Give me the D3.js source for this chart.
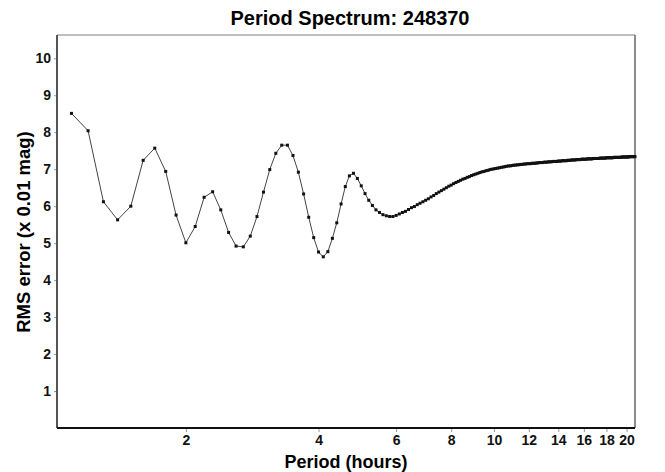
<!doctype html>
<html lang="en">
    <head>
        <meta charset="utf-8">
        <title>Period Spectrum</title>
        <style>
            body { margin: 0; background: #fff; }
            text { font-family: "Liberation Sans", Arial, sans-serif; }
        </style>
    </head>
    <body>
        <script src="https://d3js.org/d3.v7.min.js"></script>
        <script>
            // period (hours), one sample every 0.1 h
            var periods = [
                1.1,1.2,1.3,1.4,1.5,1.6,1.7,1.8,1.9,2.0,
                2.1,2.2,2.3,2.4,2.5,2.6,2.7,2.8,2.9,3.0,
                3.1,3.2,3.3,3.4,3.5,3.6,3.7,3.8,3.9,4.0,
                4.1,4.2,4.3,4.4,4.5,4.6,4.7,4.8,4.9,5.0,
                5.1,5.2,5.3,5.4,5.5,5.6,5.7,5.8,5.9,6.0,
                6.1,6.2,6.3,6.4,6.5,6.6,6.7,6.8,6.9,7.0,
                7.1,7.2,7.3,7.4,7.5,7.6,7.7,7.8,7.9,8.0,
                8.1,8.2,8.3,8.4,8.5,8.6,8.7,8.8,8.9,9.0,
                9.1,9.2,9.3,9.4,9.5,9.6,9.7,9.8,9.9,10.0,
                10.1,10.2,10.3,10.4,10.5,10.6,10.7,10.8,10.9,11.0,
                11.1,11.2,11.3,11.4,11.5,11.6,11.7,11.8,11.9,12.0,
                12.1,12.2,12.3,12.4,12.5,12.6,12.7,12.8,12.9,13.0,
                13.1,13.2,13.3,13.4,13.5,13.6,13.7,13.8,13.9,14.0,
                14.1,14.2,14.3,14.4,14.5,14.6,14.7,14.8,14.9,15.0,
                15.1,15.2,15.3,15.4,15.5,15.6,15.7,15.8,15.9,16.0,
                16.1,16.2,16.3,16.4,16.5,16.6,16.7,16.8,16.9,17.0,
                17.1,17.2,17.3,17.4,17.5,17.6,17.7,17.8,17.9,18.0,
                18.1,18.2,18.3,18.4,18.5,18.6,18.7,18.8,18.9,19.0,
                19.1,19.2,19.3,19.4,19.5,19.6,19.7,19.8,19.9,20.0,
                20.1,20.2,20.3,20.4,20.5,20.6,20.7,20.8,20.9
            ];
            // RMS error (x 0.01 mag)
            var rms = [
                8.51,8.04,6.12,5.63,6.00,7.24,7.57,6.94,5.76,5.01,
                5.45,6.24,6.39,5.90,5.29,4.92,4.90,5.19,5.72,6.38,
                6.99,7.43,7.65,7.65,7.37,6.92,6.33,5.70,5.15,4.76,
                4.63,4.77,5.13,5.55,6.06,6.53,6.82,6.89,6.75,6.55,
                6.34,6.16,6.02,5.90,5.83,5.77,5.74,5.72,5.72,5.75,
                5.79,5.83,5.86,5.91,5.96,5.99,6.04,6.08,6.12,6.16,
                6.20,6.25,6.29,6.34,6.38,6.42,6.46,6.50,6.54,6.57,
                6.61,6.64,6.67,6.70,6.73,6.75,6.78,6.80,6.83,6.85,
                6.87,6.89,6.91,6.93,6.94,6.96,6.97,6.99,7.00,7.01,
                7.02,7.03,7.04,7.05,7.06,7.07,7.08,7.09,7.09,7.10,
                7.11,7.11,7.12,7.12,7.13,7.13,7.14,7.14,7.15,7.15,
                7.15,7.16,7.16,7.16,7.17,7.17,7.18,7.18,7.18,7.19,
                7.19,7.19,7.20,7.20,7.20,7.21,7.21,7.21,7.21,7.22,
                7.22,7.22,7.23,7.23,7.23,7.23,7.24,7.24,7.24,7.25,
                7.25,7.25,7.25,7.26,7.26,7.26,7.26,7.27,7.27,7.27,
                7.27,7.27,7.28,7.28,7.28,7.28,7.28,7.29,7.29,7.29,
                7.29,7.29,7.29,7.30,7.30,7.30,7.30,7.30,7.30,7.31,
                7.31,7.31,7.31,7.31,7.31,7.31,7.32,7.32,7.32,7.32,
                7.32,7.32,7.32,7.32,7.33,7.33,7.33,7.33,7.33,7.33,
                7.33,7.33,7.34,7.34,7.34,7.34,7.34,7.34,7.34
            ];
            var xTicks = [2, 4, 6, 8, 10, 12, 14, 16, 18, 20];
            var yTicks = [1, 2, 3, 4, 5, 6, 7, 8, 9, 10];

            var margin = {top: 35, right: 30, bottom: 44, left: 57},
                width = 665 - margin.left - margin.right,
                height = 472 - margin.top - margin.bottom;

            var data = periods.map(function(p, i) { return {p: p, v: rms[i]}; });

            var x = d3.scaleLog()
                      .domain([1.02, 20.9])
                      .range([0, width]);
            var y = d3.scaleLinear()
                      .domain([0, 10.63])
                      .range([height, 0]);

            var svg = d3.select("body").append("svg")
                        .attr("width", 665)
                        .attr("height", 472);
            var g = svg.append("g")
                       .attr("transform", "translate(" + margin.left + "," + margin.top + ")");

            // title
            svg.append("text")
               .attr("x", 350).attr("y", 25)
               .attr("text-anchor", "middle")
               .attr("font-size", "20px").attr("font-weight", "bold")
               .text("Period Spectrum: 248370");

            // axes
            var xAxis = g.append("g")
                .attr("transform", "translate(0," + height + ")")
                .call(d3.axisBottom(x).tickValues(xTicks).tickFormat(d3.format("d"))
                        .tickSize(4).tickSizeOuter(0).tickPadding(3));
            var yAxis = g.append("g")
                .call(d3.axisLeft(y).tickValues(yTicks).tickFormat(d3.format("d"))
                        .tickSize(3).tickSizeOuter(0).tickPadding(3));
            [xAxis, yAxis].forEach(function(a) {
                a.select(".domain").remove();
                a.selectAll(".tick line").attr("stroke", "#999");
                a.selectAll(".tick text")
                 .attr("font-family", "Liberation Sans, Arial, sans-serif")
                 .attr("font-size", "14px").attr("font-weight", "bold").attr("fill", "#111");
            });

            // frame
            g.append("line").attr("x1", 0).attr("x2", width).attr("y1", 0).attr("y2", 0)
             .attr("stroke", "#aaa").attr("stroke-width", 1.5);
            g.append("line").attr("x1", width).attr("x2", width).attr("y1", 0).attr("y2", height)
             .attr("stroke", "#666").attr("stroke-width", 1.5);
            g.append("line").attr("x1", 0).attr("x2", 0).attr("y1", 0).attr("y2", height)
             .attr("stroke", "#555").attr("stroke-width", 2);
            g.append("line").attr("x1", 0).attr("x2", width).attr("y1", height).attr("y2", height)
             .attr("stroke", "#111").attr("stroke-width", 2);

            // line + markers
            var line = d3.line()
                         .x(function(d) { return x(d.p); })
                         .y(function(d) { return y(d.v); });
            g.append("path")
             .datum(data)
             .attr("fill", "none")
             .attr("stroke", "#444")
             .attr("stroke-width", 1)
             .attr("d", line);
            g.selectAll("rect.pt")
             .data(data)
             .enter().append("rect")
             .attr("class", "pt")
             .attr("x", function(d) { return x(d.p) - 1.5; })
             .attr("y", function(d) { return y(d.v) - 1.5; })
             .attr("width", 3)
             .attr("height", 3)
             .attr("fill", "#111");

            // axis titles
            svg.append("text")
               .attr("x", 346).attr("y", 468)
               .attr("text-anchor", "middle")
               .attr("font-size", "18px").attr("font-weight", "bold")
               .text("Period (hours)");
            svg.append("text")
               .attr("transform", "translate(30,232) rotate(-90)")
               .attr("text-anchor", "middle")
               .attr("font-size", "18.5px").attr("font-weight", "bold")
               .text("RMS error (x 0.01 mag)");
        </script>
    </body>
</html>
